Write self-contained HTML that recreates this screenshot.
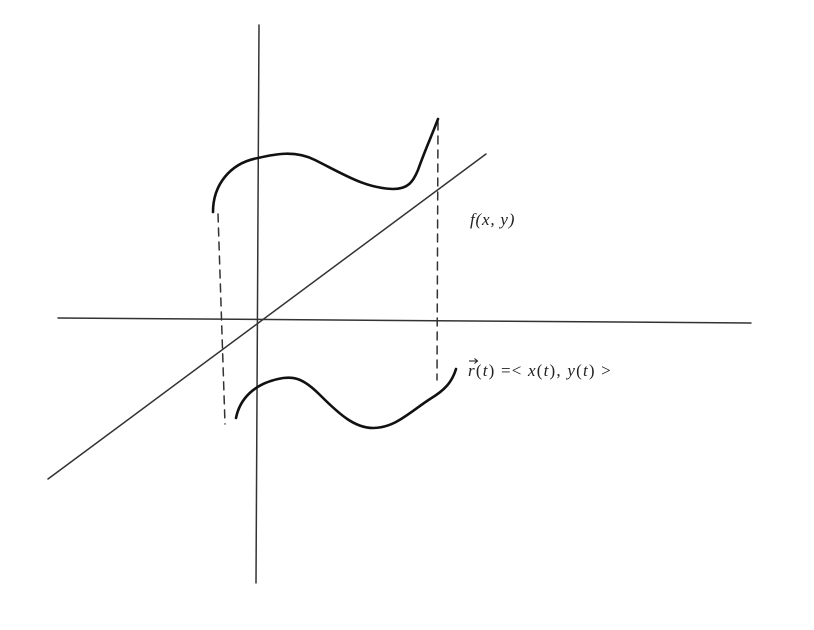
<!DOCTYPE html>
<html><head><meta charset="utf-8"><style>
html,body{margin:0;padding:0;background:#fff;}
svg{display:block;}
text{font-family:"Liberation Serif",serif;font-size:17px;fill:#222;}
</style></head><body>
<svg width="814" height="630" viewBox="0 0 814 630" xmlns="http://www.w3.org/2000/svg">
<g stroke="#333" fill="none" stroke-width="1.5" stroke-linecap="round">
<line x1="259" y1="25" x2="256" y2="583"/>
<line x1="58" y1="318" x2="751" y2="323"/>
<line x1="48" y1="479" x2="486" y2="154"/>
<line x1="218" y1="214" x2="225" y2="424" stroke-dasharray="8,6"/>
<line x1="438" y1="122" x2="437" y2="380" stroke-dasharray="8,6"/>
</g>
<g stroke="#111" fill="none" stroke-width="2.6" stroke-linecap="round">
<path d="M213,212 C213,185 230,163 258,158 C275,154 295,150 315,160 C345,175 365,188 393,189 C408,189 413,182 418,170 C425,150 432,135 438,119"/>
<path d="M236,418 C240,398 255,384 278,379 C295,375 305,380 320,395 C340,415 355,428 373,428 C395,428 410,412 430,399 C445,390 452,382 456,369"/>
</g>
<text x="470" y="225" font-style="italic" letter-spacing="0.8">f(x, y)</text>
<g stroke="#222" stroke-width="1.1" fill="none"><line x1="469" y1="361" x2="477" y2="361"/><path d="M474.5,358.5 L477.5,361 L474.5,363.5"/></g>
<text x="468" y="376" letter-spacing="1.2"><tspan font-style="italic">r</tspan>(<tspan font-style="italic">t</tspan>) =&lt; <tspan font-style="italic">x</tspan>(<tspan font-style="italic">t</tspan>), <tspan font-style="italic">y</tspan>(<tspan font-style="italic">t</tspan>) &gt;</text>
</svg>
</body></html>
